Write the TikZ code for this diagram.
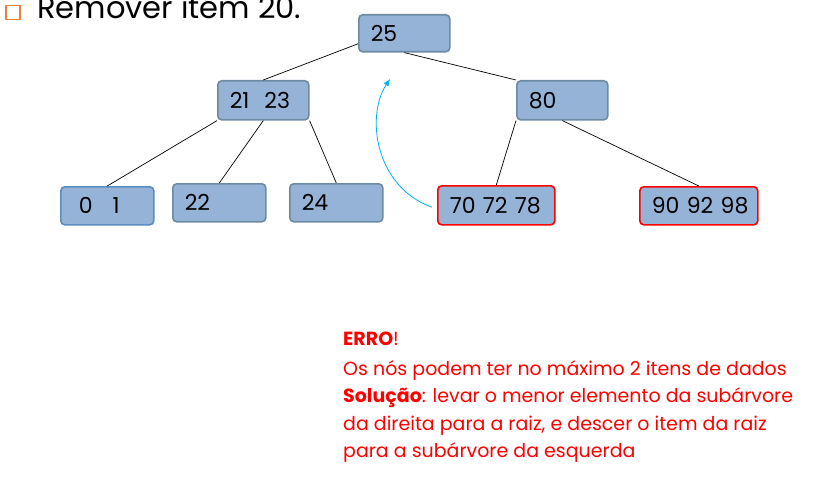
\documentclass[tikz,border=0pt]{standalone}
\usepackage{fontspec}
\setmainfont{Poppins}
\usetikzlibrary{arrows.meta,calc}
\definecolor{boxfill}{HTML}{95B3D7}
\definecolor{boxline}{HTML}{6D8AA5}
\definecolor{boxlineb}{HTML}{5B8CC0}
\definecolor{bullet}{HTML}{E8803E}
\definecolor{arrowblue}{HTML}{00B0F0}
\definecolor{errred}{HTML}{FF0000}
\tikzset{
  x=1pt, y=-1pt,
  keybox/.style={draw=boxline, fill=boxfill, line width=1.6pt, rounded corners=4pt,
    anchor=north west, inner xsep=12pt, inner ysep=0pt, align=left,
    font=\fontsize{22}{24}\selectfont, minimum height=#1},
  keybox/.default=38pt,
  fullbox/.style={draw=errred, line width=1.6pt},
  link/.style={draw=black, line width=0.7pt},
  moveflow/.style={draw=arrowblue, line width=0.8pt, -{Latex[length=7pt,width=6pt]}},
  errtext/.style={anchor=base west, inner sep=0pt, text=errred, font=\fontsize{19}{22}\selectfont},
}
\begin{document}
\begin{tikzpicture}
\useasboundingbox (0,0) rectangle (834,484);

% heading
\node[draw=bullet, line width=1.5pt, minimum size=14pt, inner sep=0pt, anchor=north west] (bul) at (5,5) {};
\node[anchor=base west, inner sep=0pt, font=\fontsize{30.5}{32}\selectfont] (title) at (37,19) {Remover item 20.};

% tree nodes (top-left corner, width)
\node[keybox=37pt, text width=67pt] (k25) at (358,14) {25};
\node[keybox=39pt, text width=67pt] (k2123) at (217,80) {\mbox{21\hspace{15pt}23}};
\node[keybox=39pt, text width=67pt] (k80) at (516,80) {80};
\node[keybox, text width=57pt, inner xsep=18pt, draw=boxlineb] (k01) at (60,186) {0\hspace{20pt}1};
\node[keybox, text width=69pt] (k22) at (172,183) {22};
\node[keybox, text width=69pt] (k24) at (289,183) {24};
\node[keybox=39pt, text width=93pt, fullbox] (k70) at (437,185) {\mbox{70 72 78}};
\node[keybox, text width=94pt, fullbox] (k90) at (639,186) {\mbox{90 92 98}};

% edges
\draw[link] ([yshift=-10.5pt]k25.west) -- (k2123.north);
\draw[link] (k25.south) -- (k80.north west);
\draw[link] (k2123.south west) -- (k01.north);
\draw[link] (k2123.south) -- (k22.north);
\draw[link] (k2123.south east) -- (k24.north);
\draw[link] (k80.south west) -- (k70.north);
\draw[link] (k80.south) -- (k90.north);

% key moved up to the root
\coordinate (rootslot) at (390,79);
\draw[moveflow] ([xshift=-5pt,yshift=-2pt]k70.west) .. controls (374,186) and (366,115) .. (rootslot);

% explanation
\node[errtext] (l1) at (343,345) {\textbf{ERRO}!};
\node[errtext] (l2) at (343,375) {Os nós podem ter no máximo 2 itens de dados};
\node[errtext] (l3) at (343,402) {\textbf{Solução}: levar o menor elemento da subárvore};
\node[errtext] (l4) at (343,430) {da direita para a raiz, e descer o item da raiz};
\node[errtext] (l5) at (343,457) {para a subárvore da esquerda};
\end{tikzpicture}
\end{document}
